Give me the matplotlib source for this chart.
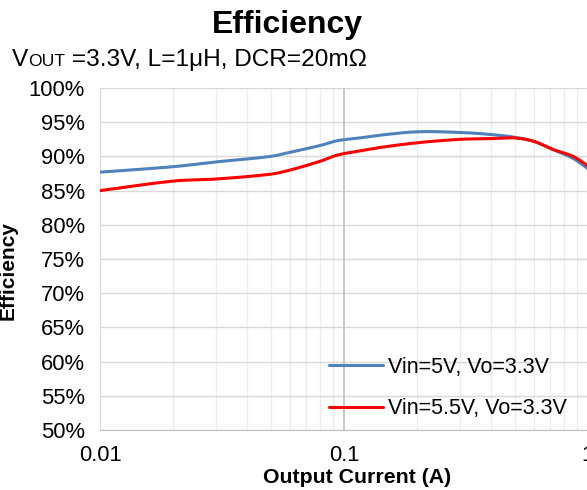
import numpy as np
import matplotlib.pyplot as plt
from matplotlib.ticker import FixedLocator, NullFormatter, FuncFormatter
from matplotlib.transforms import offset_copy

plt.rcParams['font.family'] = ['Liberation Sans', 'DejaVu Sans']

# Data
current = [0.01, 0.02, 0.03, 0.05, 0.06, 0.08, 0.094, 0.116, 0.14, 0.2, 0.3, 0.4, 0.5, 0.6, 0.72, 0.87, 1.0]
eff_5v = [87.7, 88.5, 89.2, 90.0, 90.6, 91.6, 92.3, 92.7, 93.1, 93.6, 93.5, 93.2, 92.8, 92.2, 91.0, 89.7, 88.2]
eff_55v = [85.0, 86.4, 86.7, 87.4, 88.0, 89.3, 90.2, 90.8, 91.3, 92.0, 92.5, 92.6, 92.7, 92.2, 91.0, 90.0, 88.6]
labels = ['Vin=5V, Vo=3.3V', 'Vin=5.5V, Vo=3.3V']
colors = ['#4f81bd', '#ff0000']


def smooth(x, y, n=25):
    # cubic Hermite through the points, in log-x space
    lx = np.log10(x)
    m = np.zeros_like(y)
    m[1:-1] = (y[2:] - y[:-2]) / (lx[2:] - lx[:-2])
    m[0] = (y[1] - y[0]) / (lx[1] - lx[0])
    m[-1] = (y[-1] - y[-2]) / (lx[-1] - lx[-2])
    xs, ys = [], []
    for i in range(len(lx) - 1):
        h = lx[i + 1] - lx[i]
        t = np.linspace(0, 1, n, endpoint=False)
        h00 = 2 * t**3 - 3 * t**2 + 1
        h10 = t**3 - 2 * t**2 + t
        h01 = -2 * t**3 + 3 * t**2
        h11 = t**3 - t**2
        xs.append(lx[i] + t * h)
        ys.append(h00 * y[i] + h10 * h * m[i] + h01 * y[i + 1] + h11 * h * m[i + 1])
    xs.append([lx[-1]])
    ys.append([y[-1]])
    return 10 ** np.concatenate(xs), np.concatenate(ys)


fig = plt.figure(figsize=(5.87, 4.90), dpi=100)
ax = fig.add_axes([0.1704, 0.1224, 0.8313, 0.698])

for y, c, lab in zip([eff_5v, eff_55v], colors, labels):
    sx, sy = smooth(np.array(current), np.array(y, dtype=float))
    ax.plot(sx, sy, color=c, lw=2.2, label=lab, solid_capstyle='round', zorder=3)

ax.set_xscale('log')
ax.set_xlim(0.01, 1)
ax.set_ylim(50, 100)
ax.set_yticks(np.arange(50, 101, 5))
ax.yaxis.set_major_formatter(FuncFormatter(lambda v, p: f'{v:.0f}%'))
ax.xaxis.set_major_locator(FixedLocator([0.01, 0.1, 1]))
ax.xaxis.set_major_formatter(FuncFormatter(lambda v, p: f'{v:g}'))
minors = [m * d for d in (0.01, 0.1) for m in range(2, 10)]
ax.xaxis.set_minor_locator(FixedLocator(minors))
ax.xaxis.set_minor_formatter(NullFormatter())

ax.grid(axis='y', which='major', color='#d9d9d9', lw=1)
ax.grid(axis='x', which='minor', color='#ececec', lw=1)
ax.axvline(0.1, color='#c0c0c0', lw=1.2, zorder=1)
ax.set_axisbelow(True)

for s in ['top', 'right']:
    ax.spines[s].set_visible(False)
ax.spines['left'].set_color('#d9d9d9')
ax.spines['bottom'].set_color('#bfbfbf')
ax.tick_params(axis='both', which='both', length=0, labelsize=15.8)
ax.tick_params(axis='x', pad=11)
ax.tick_params(axis='y', pad=11)

ax.set_xlabel('Output Current (A)', fontsize=15.3, fontweight='bold')
ax.xaxis.set_label_coords(0.526, -0.11)
ax.set_ylabel('Efficiency', fontsize=15, fontweight='bold')
ax.yaxis.set_label_coords(-0.168, 0.465)

fig.text(0.49, 0.948, 'Efficiency', fontsize=23, fontweight='bold',
         ha='center', va='center')

# subtitle: V + small-caps "OUT" + rest, on one baseline
renderer = fig.canvas.get_renderer()
x0, yb = 0.02, 0.866
t1 = fig.text(x0, yb, 'V', fontsize=17.6, va='baseline')
w1 = t1.get_window_extent(renderer).width
t2 = fig.text(x0, yb, 'OUT', fontsize=12.6, va='baseline',
              transform=offset_copy(fig.transFigure, fig=fig, x=w1, y=0, units='dots'))
w2 = t2.get_window_extent(renderer).width
fig.text(x0, yb, ' =3.3V, L=1μH, DCR=20mΩ', fontsize=17.6, va='baseline',
         transform=offset_copy(fig.transFigure, fig=fig, x=w1 + w2, y=0, units='dots'))

ax.legend(loc='lower left', bbox_to_anchor=(0.43, -0.025), frameon=False,
          fontsize=15.5, handlelength=2.5, handletextpad=0.25, labelspacing=0.95)

fig.savefig('out.png', dpi=100)
